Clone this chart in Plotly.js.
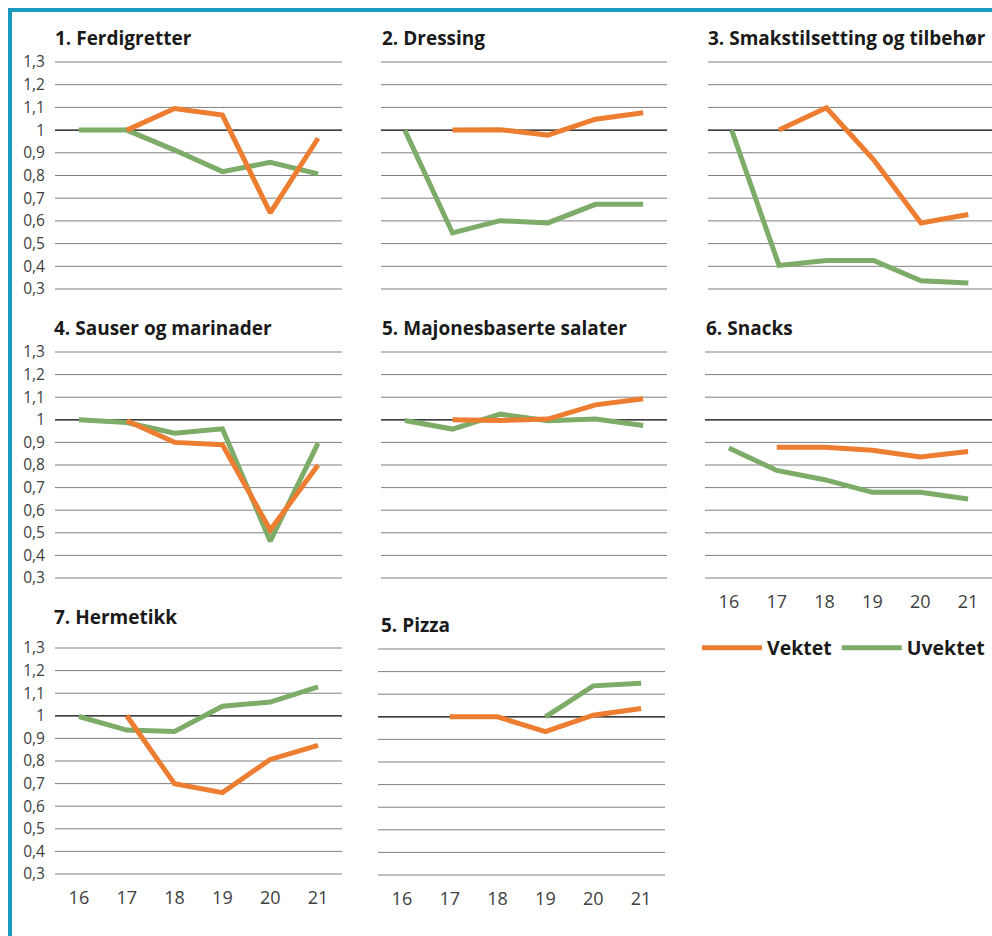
<!DOCTYPE html>
<html>
<head>
<meta charset="utf-8">
<script src="https://cdn.plot.ly/plotly-3.0.1.min.js"></script>
<style>
  html, body { margin: 0; padding: 0; background: #ffffff; }
  #chart { width: 992px; height: 936px; }
</style>
</head>
<body>
<div id="chart"></div>
<script>
// ---- Data ----
const years = ['16', '17', '18', '19', '20', '21'];
const yTicks = [0.3, 0.4, 0.5, 0.6, 0.7, 0.8, 0.9, 1.0, 1.1, 1.2, 1.3];
const seriesNames = ['Vektet', 'Uvektet'];
const panelTitles = [
  '1. Ferdigretter',
  '2. Dressing',
  '3. Smakstilsetting og tilbehør',
  '4. Sauser og marinader',
  '5. Majonesbaserte salater',
  '6. Snacks',
  '7. Hermetikk',
  '5. Pizza'
];

const vektet1 = [null, 1.00, 1.095, 1.066, 0.635, 0.964];
const uvektet1 = [1.00, 1.00, 0.912, 0.817, 0.858, 0.807];

const vektet2 = [null, 1.00, 1.002, 0.978, 1.048, 1.076];
const uvektet2 = [1.00, 0.547, 0.601, 0.591, 0.673, 0.673];

const vektet3 = [null, 1.00, 1.098, 0.869, 0.591, 0.628];
const uvektet3 = [1.00, 0.404, 0.426, 0.426, 0.336, 0.326];

const vektet4 = [null, 0.996, 0.900, 0.890, 0.512, 0.800];
const uvektet4 = [1.00, 0.988, 0.941, 0.960, 0.463, 0.897];

const vektet5 = [null, 1.00, 0.997, 1.003, 1.066, 1.093];
const uvektet5 = [0.997, 0.959, 1.025, 0.996, 1.003, 0.975];

const vektet6 = [null, 0.879, 0.879, 0.865, 0.835, 0.860];
const uvektet6 = [0.875, 0.776, 0.735, 0.679, 0.679, 0.650];

const vektet7 = [null, 1.00, 0.699, 0.660, 0.807, 0.869];
const uvektet7 = [0.997, 0.937, 0.931, 1.042, 1.061, 1.128];

const vektet8 = [null, 1.00, 1.00, 0.934, 1.007, 1.037];
const uvektet8 = [null, null, null, 1.00, 1.137, 1.148];

// ---- Styling / layout ----
const W = 992, H = 936;
const ORANGE = '#ED7D31';
const GREEN = '#7DAB68';
const FONT = '"Open Sans", Lato, sans-serif';
const px = v => v / W;
const py = v => 1 - v / H;

// panel geometry in pixels: [left, right, y(1.3), y(0.3)]
const geom = [
  [55, 342, 62, 289],
  [381, 667, 62, 289],
  [708, 992, 62, 289],
  [55, 342, 352, 578],
  [381, 667, 352, 578],
  [705, 992, 352, 578],
  [55, 342, 648, 874],
  [378, 665, 649, 875]
];
const titlePos = [
  [55, 38], [382, 38], [708, 38],
  [54, 328], [382, 328], [706, 328],
  [54, 617], [381, 625]
];
const showY = [true, false, false, true, false, false, true, false];
const showX = [false, false, false, false, false, true, true, true];

const vSeries = [vektet1, vektet2, vektet3, vektet4, vektet5, vektet6, vektet7, vektet8];
const uSeries = [uvektet1, uvektet2, uvektet3, uvektet4, uvektet5, uvektet6, uvektet7, uvektet8];

const PAD = 0.01; // axis padding so edge gridlines are not clipped

const traces = [];
const layout = {
  width: W, height: H,
  margin: {l: 0, r: 0, t: 0, b: 0},
  paper_bgcolor: '#ffffff',
  plot_bgcolor: 'rgba(0,0,0,0)',
  separators: ', ',
  font: {family: FONT, color: '#404040', size: 15},
  showlegend: true,
  legend: {
    orientation: 'h',
    x: px(697), y: py(648), xanchor: 'left', yanchor: 'middle',
    font: {family: FONT, size: 19.5, color: '#1a1a1a', weight: 'bold'},
    itemwidth: 60,
    tracegroupgap: 0,
    bgcolor: 'rgba(0,0,0,0)'
  },
  annotations: [],
  shapes: []
};

for (let i = 0; i < 8; i++) {
  const n = i + 1;
  const xa = n === 1 ? 'x' : 'x' + n;
  const ya = n === 1 ? 'y' : 'y' + n;
  const [l, r, t, b] = geom[i];
  const ext = PAD * (b - t);
  layout[n === 1 ? 'xaxis' : 'xaxis' + n] = {
    domain: [px(l), px(r)],
    anchor: ya,
    type: 'category',
    range: [-0.5, 5.5],
    showgrid: false,
    zeroline: false,
    showline: false,
    ticks: 'outside',
    ticklen: 5,
    tickcolor: 'rgba(0,0,0,0)',
    showticklabels: showX[i],
    tickfont: {size: 18, color: '#404040'},
    fixedrange: true
  };
  layout[n === 1 ? 'yaxis' : 'yaxis' + n] = {
    domain: [py(b + ext), py(t - ext)],
    anchor: xa,
    range: [0.3 - PAD, 1.3 + PAD],
    tickvals: yTicks,
    showgrid: false,
    zeroline: false,
    showline: false,
    ticks: '',
    showticklabels: showY[i],
    ticklabelstandoff: 9,
    tickfont: {size: 15.5, color: '#404040'},
    fixedrange: true
  };
  // horizontal gridlines (reference line at 1 drawn black), under the traces
  yTicks.forEach(v => {
    const isOne = Math.abs(v - 1) < 1e-9;
    layout.shapes.push({
      type: 'line', xref: xa + ' domain', yref: ya,
      x0: 0, x1: 1, y0: v, y1: v,
      line: {color: isOne ? '#000000' : '#808080', width: isOne ? 1.3 : 1},
      layer: 'below'
    });
  });
  layout.annotations.push({
    text: panelTitles[i],
    xref: 'paper', yref: 'paper',
    x: px(titlePos[i][0] - 2), y: py(titlePos[i][1]),
    xanchor: 'left', yanchor: 'middle',
    showarrow: false,
    font: {family: FONT, size: 19, color: '#1a1a1a', weight: 'bold'}
  });
  traces.push({
    type: 'scatter', mode: 'lines',
    x: years, y: uSeries[i],
    xaxis: xa, yaxis: ya,
    name: seriesNames[1],
    legendgroup: 'u',
    showlegend: i === 0,
    legendrank: 2,
    line: {color: GREEN, width: 5, shape: 'linear'},
    hoverinfo: 'skip'
  });
  traces.push({
    type: 'scatter', mode: 'lines',
    x: years, y: vSeries[i],
    xaxis: xa, yaxis: ya,
    name: seriesNames[0],
    legendgroup: 'v',
    showlegend: i === 0,
    legendrank: 1,
    line: {color: ORANGE, width: 5, shape: 'linear'},
    hoverinfo: 'skip'
  });
}

// teal frame (top and left)
layout.shapes.push({
  type: 'rect', xref: 'paper', yref: 'paper',
  x0: px(8), x1: px(12), y0: 0, y1: py(8),
  fillcolor: '#1A9BBE', line: {width: 0}, layer: 'above'
});
layout.shapes.push({
  type: 'rect', xref: 'paper', yref: 'paper',
  x0: px(8), x1: 1, y0: py(12), y1: py(8),
  fillcolor: '#1A9BBE', line: {width: 0}, layer: 'above'
});

Plotly.newPlot('chart', traces, layout, {displayModeBar: false, staticPlot: true});
</script>
</body>
</html>
